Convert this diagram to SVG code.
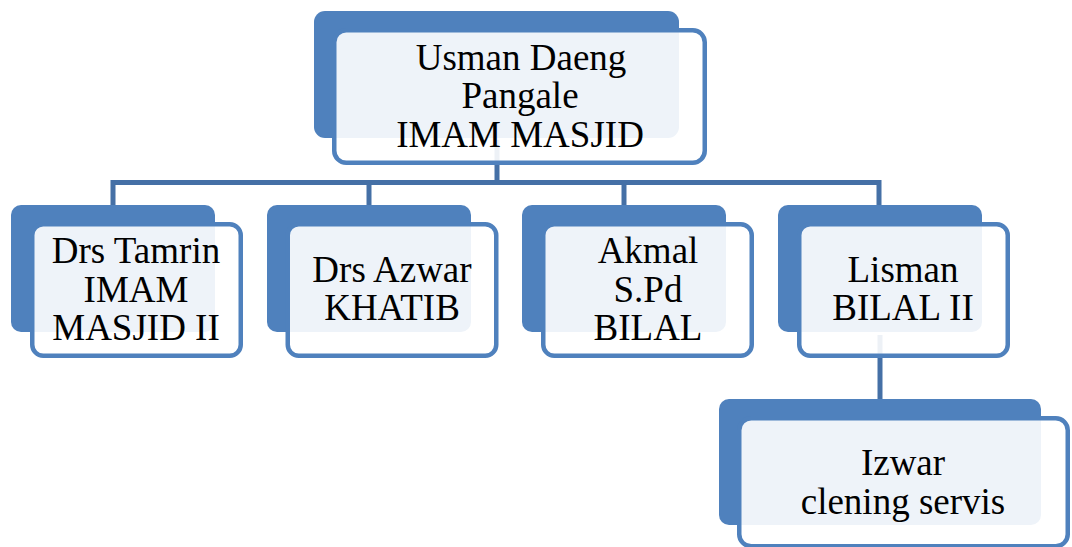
<svg xmlns="http://www.w3.org/2000/svg" width="1072" height="547" viewBox="0 0 1072 547">
<style>
.back{fill:#4F81BD}
.front{fill:#FFFFFF;fill-opacity:0.9;stroke:#4F81BD;stroke-width:4.5}
.conn{fill:none;stroke:#4570A6;stroke-width:5}
text{font-family:"Liberation Serif","Times New Roman",serif;font-size:37px;fill:#000;text-anchor:middle}
</style>
<rect width="1072" height="547" fill="#FFFFFF"/>
<g id="connectors">
<path class="conn" d="M497 140 V182.5"/>
<path class="conn" d="M113 206 V182.5 H879 V206"/>
<path class="conn" d="M369 182.5 V206"/>
<path class="conn" d="M624 182.5 V206"/>
<path class="conn" d="M880 335 V400"/>
</g>
<g id="imam">
<rect class="back" x="314" y="11" width="365" height="127" rx="11"/>
<rect class="front" x="334.25" y="30.25" width="370.5" height="132.5" rx="12"/>
<text x="521" y="70">Usman Daeng</text>
<text x="520" y="108">Pangale</text>
<text x="520" y="147">IMAM MASJID</text>
</g>
<g id="tamrin">
<rect class="back" x="11" y="205" width="204" height="127" rx="10"/>
<rect class="front" x="32.25" y="224.25" width="208.5" height="131.5" rx="11"/>
<text x="136" y="263">Drs Tamrin</text>
<text x="136" y="302">IMAM</text>
<text x="136" y="340">MASJID II</text>
</g>
<g id="azwar">
<rect class="back" x="267" y="205" width="204" height="127" rx="10"/>
<rect class="front" x="287.75" y="224.25" width="208.5" height="131.5" rx="11"/>
<text x="392" y="282">Drs Azwar</text>
<text x="392" y="320">KHATIB</text>
</g>
<g id="akmal">
<rect class="back" x="522" y="205" width="204" height="127" rx="10"/>
<rect class="front" x="543.25" y="224.25" width="208.5" height="131.5" rx="11"/>
<text x="648" y="263">Akmal</text>
<text x="648" y="302">S.Pd</text>
<text x="648" y="340">BILAL</text>
</g>
<g id="lisman">
<rect class="back" x="778" y="205" width="204" height="127" rx="10"/>
<rect class="front" x="799.25" y="224.25" width="208.5" height="131.5" rx="11"/>
<text x="903" y="282">Lisman</text>
<text x="903" y="320">BILAL II</text>
</g>
<g id="izwar">
<rect class="back" x="719" y="399" width="322" height="126" rx="10"/>
<rect class="front" x="739.25" y="418.25" width="328.5" height="128" rx="12"/>
<text x="903" y="475">Izwar</text>
<text x="903" y="514">clening servis</text>
</g>
</svg>
